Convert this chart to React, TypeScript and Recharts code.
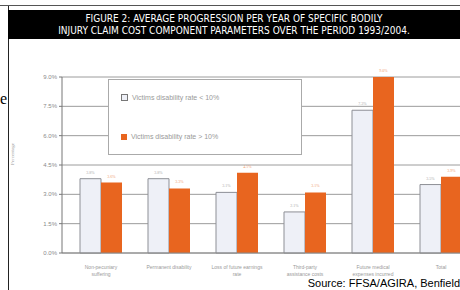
import React from 'react';
import { BarChart, Bar, XAxis, YAxis, CartesianGrid, LabelList, Label } from 'recharts';

// (percent per year)
const categories = [
  ['Non-pecuniary', 'suffering'],
  ['Permanent disability', ''],
  ['Loss of future earnings', 'rate'],
  ['Third-party', 'assistance costs'],
  ['Future medical', 'expenses incurred'],
  ['Total', ''],
];
const below10 = [3.8, 3.8, 3.1, 2.1, 7.3, 3.5];
const above10 = [3.6, 3.3, 4.1, 3.1, 9.0, 3.9];
const yTicks = [0, 1.5, 3, 4.5, 6, 7.5, 9];
const seriesNames = ['Victims disability rate < 10%', 'Victims disability rate > 10%'];

const LIGHT = '#eef0f7';
const ORANGE = '#e8651f';

const data = categories.map((c, i) => ({
  name: c[0],
  line2: c[1],
  below: below10[i],
  above: above10[i],
}));

const CatTick = (props: any) => {
  const { x, y, payload, index } = props;
  const second = categories[index] ? categories[index][1] : '';
  return (
    <text x={x} y={y + 8} textAnchor="middle" fontSize={5} fill="#9a9a9a" fontFamily="Arial, Liberation Sans">
      <tspan x={x}>{payload.value}</tspan>
      {second && <tspan x={x} dy={7}>{second}</tspan>}
    </text>
  );
};

const LegendBox = () => (
  <div
    style={{
      position: 'absolute',
      left: 108,
      top: 79,
      width: 194,
      height: 76,
      background: '#fff',
      border: '1px solid #aaa',
      fontFamily: 'Arial, Liberation Sans',
      fontSize: 7,
      color: '#999',
      boxSizing: 'border-box',
      paddingLeft: 12,
    }}
  >
    <div style={{ display: 'flex', alignItems: 'center', marginTop: 14 }}>
      <span style={{ width: 5, height: 5, background: LIGHT, border: '1px solid #777', marginRight: 4 }} />
      {seriesNames[0]}
    </div>
    <div style={{ display: 'flex', alignItems: 'center', marginTop: 32 }}>
      <span style={{ width: 6, height: 6, background: ORANGE, marginRight: 4 }} />
      {seriesNames[1]}
    </div>
  </div>
);

const App = () => {
  return (
    <div style={{ position: 'absolute', left: 0, top: 0, width: 460, height: 290, overflow: 'hidden', background: '#fff' }}>
      <div style={{ position: 'absolute', left: 0, top: 0 }}>
        <BarChart
          width={475}
          height={290}
          data={data}
          margin={{ top: 77, right: 0, bottom: 12, left: 0 }}
          barGap={0}
          barSize={21}
        >
          <CartesianGrid vertical={false} stroke="#9c9c9c" />
          <XAxis
            dataKey="name"
            height={25}
            tick={<CatTick />}
            tickLine={false}
            axisLine={{ stroke: '#888' }}
            padding={{ left: 5, right: 0 }}
            interval={0}
          />
          <YAxis
            width={62}
            domain={[0, 9]}
            ticks={yTicks}
            tickFormatter={(v: number) => `${v.toFixed(1)}%`}
            tick={{ fontSize: 6, fill: '#8a8a8a', fontFamily: 'Arial, Liberation Sans' }}
            tickSize={3}
            axisLine={{ stroke: '#777' }}
            tickLine={{ stroke: '#777' }}
          >
            <Label value="Percentage" angle={-90} position="insideLeft" offset={12} style={{ fontSize: 5, fill: '#999' }} />
          </YAxis>
          <Bar dataKey="below" name={seriesNames[0]} fill={LIGHT} stroke="#8d8f96" strokeWidth={1} isAnimationActive={false}>
            <LabelList dataKey="below" position="top" fontSize={4} fill="#aaa" formatter={(v: any) => `${Number(v).toFixed(1)}%`} />
          </Bar>
          <Bar dataKey="above" name={seriesNames[1]} fill={ORANGE} isAnimationActive={false}>
            <LabelList dataKey="above" position="top" fontSize={4} fill="#f0a070" formatter={(v: any) => `${Number(v).toFixed(1)}%`} />
          </Bar>
        </BarChart>
      </div>

      <LegendBox />

      {/* frame and title bar */}
      <div style={{ position: 'absolute', left: 0, top: 5, width: 460, height: 1, background: '#555' }} />
      <div style={{ position: 'absolute', left: 8, top: 6, width: 1, height: 284, background: '#222' }} />
      <div
        style={{
          position: 'absolute',
          left: 8,
          top: 10,
          width: 452,
          height: 29,
          background: '#000',
          color: '#fff',
          fontFamily: '"Liberation Sans Narrow", "DejaVu Sans Condensed", Arial',
          fontSize: 10,
          lineHeight: '12px',
          textAlign: 'center',
          paddingTop: 3,
          boxSizing: 'border-box',
        }}
      >
        <div>FIGURE 2: AVERAGE PROGRESSION PER YEAR OF SPECIFIC BODILY</div>
        <div>INJURY CLAIM COST COMPONENT PARAMETERS OVER THE PERIOD 1993/2004.</div>
      </div>
      <div style={{ position: 'absolute', left: 0, top: 90, fontFamily: 'serif', fontSize: 16, color: '#000', lineHeight: '18px' }}>e</div>

      <div
        style={{
          position: 'absolute',
          right: 0,
          top: 277,
          fontFamily: 'Arial, Liberation Sans',
          fontSize: 11,
          color: '#000',
          background: '#fff',
          paddingLeft: 2,
        }}
      >
        Source: FFSA/AGIRA, Benfield
      </div>
    </div>
  );
};

export default App;
